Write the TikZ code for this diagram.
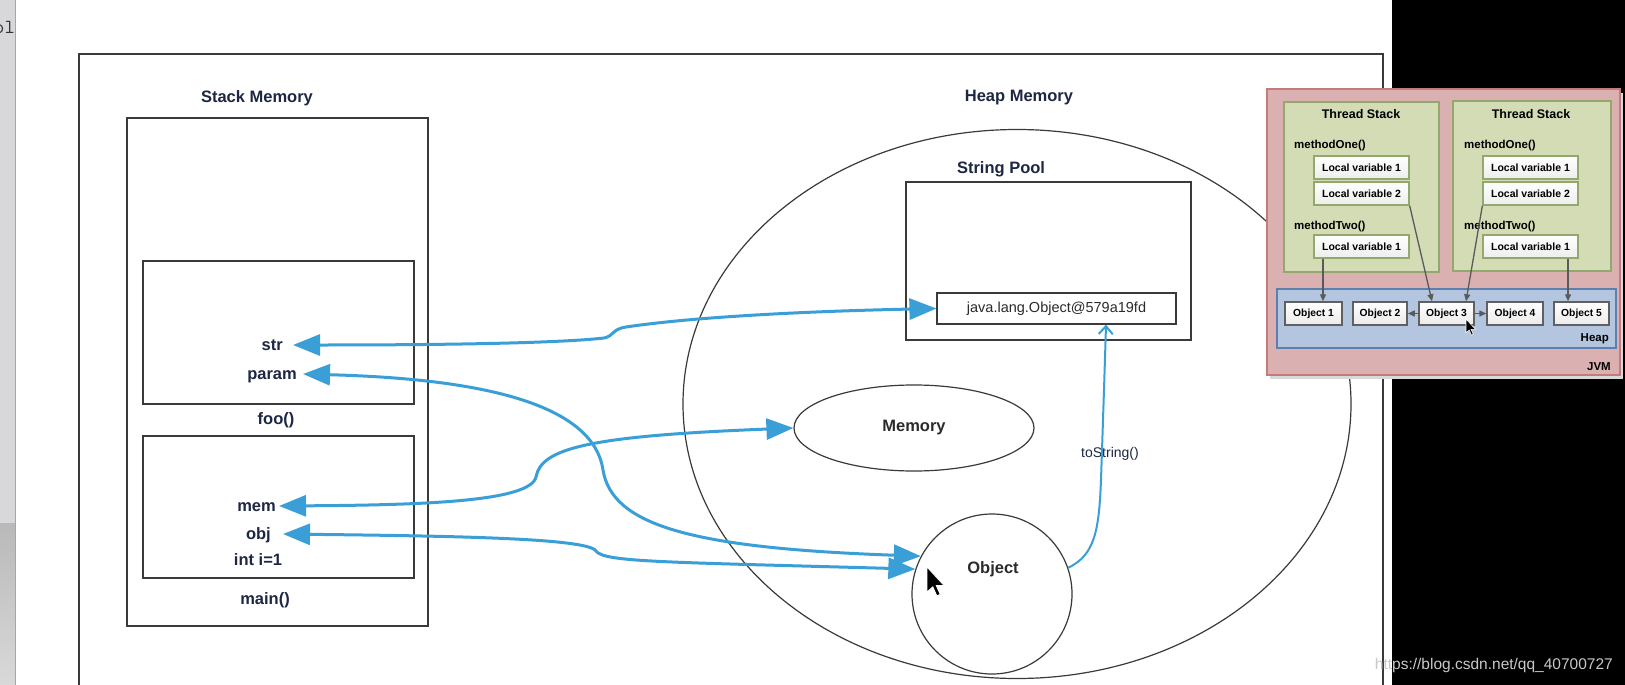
\documentclass[tikz,border=0pt]{standalone}
\usepackage{fontspec}
\setmainfont{Liberation Sans}
\usetikzlibrary{arrows.meta,shapes.geometric}
\definecolor{framec}{HTML}{3A3A3A}
\definecolor{navy}{HTML}{1D2743}
\definecolor{arrowblue}{HTML}{3B9FD7}
\definecolor{jvmpink}{HTML}{DBB0B0}
\definecolor{jvmborder}{HTML}{C47B7B}
\definecolor{tsgreen}{HTML}{D4DCB6}
\definecolor{tsborder}{HTML}{93A86C}
\definecolor{heapblue}{HTML}{B4C5DF}
\definecolor{heapborder}{HTML}{5D7FAE}
\definecolor{darktext}{HTML}{2B2B2B}
\definecolor{jvmline}{HTML}{5A5A5A}
\definecolor{stripgray}{HTML}{D8D8DB}
\definecolor{wmgray}{HTML}{C8C8C8}
\begin{document}
\begin{tikzpicture}[x=1pt,y=-1pt,
  box/.style={draw=framec, line width=1.2pt, inner sep=0pt},
  title/.style={font=\fontsize{16.5}{18}\selectfont\bfseries, text=navy, inner sep=0pt},
  var/.style={font=\fontsize{16.5}{18}\selectfont\bfseries, text=navy, inner ysep=0pt, text height=11.5pt, text depth=0pt},
  link/.style={draw=arrowblue, line width=3pt, {Triangle[length=27pt,width=21pt]}-{Triangle[length=27pt,width=21pt]}},
  tolink/.style={draw=arrowblue, line width=2pt, -{Straight Barb[length=8pt,width=14pt]}},
  tstack/.style={draw=tsborder, fill=tsgreen, line width=1.5pt, inner sep=0pt},
  jvmtitle/.style={font=\fontsize{12.5}{14}\selectfont\bfseries, text=black, inner sep=0pt},
  jvmtxt/.style={font=\fontsize{11.5}{13}\selectfont\bfseries, text=black, inner sep=0pt},
  lvbox/.style={draw=tsborder, line width=1.3pt, top color=white, bottom color=gray!14, minimum width=95pt, minimum height=23pt, inner sep=0pt, font=\fontsize{10.5}{12}\selectfont\bfseries},
  objbox/.style={draw=gray!75!black, line width=1.5pt, top color=white, bottom color=gray!16, minimum height=23pt, inner sep=0pt, font=\fontsize{10.3}{12}\selectfont\bfseries},
  jarrow/.style={draw=jvmline, line width=1.3pt, -{Triangle[length=7pt,width=6pt]}},
  cursor/.style={fill=black, draw=white, line width=0.8pt}
]
\useasboundingbox (0,0) rectangle (1625,685);
% backgrounds
\fill[white] (0,0) rectangle (1625,685);
\fill[black] (1392,0) rectangle (1625,685);
\fill[stripgray] (0,0) rectangle (15,523);
\shade[top color=gray!55, bottom color=gray!30] (0,523) rectangle (15,685);
\draw[gray!70, line width=1pt] (15,0) -- (15,685);
\node[anchor=base east, font=\fontsize{20}{22}\selectfont\ttfamily, inner sep=0pt, text=black!80] (cut) at (15,34) {ol};
% outer frame
\draw[framec, line width=1.4pt] (79,690) -- (79,54) -- (1383,54) -- (1383,690);

% stack memory
\node[box, minimum width=301pt, minimum height=508pt] (stack) at (277.5,372) {};
\node[title, anchor=base] (stacktitle) at (257,102) {Stack Memory};
\node[box, minimum width=271pt, minimum height=143pt] (foo) at (278.5,332.5) {};
\node[title, anchor=base] (foolabel) at (276,424) {foo()};
\node[box, minimum width=271pt, minimum height=142pt] (main) at (278.5,507) {};
\node[title, anchor=base] (mainlabel) at (265,604) {main()};
\node[var, anchor=east, inner xsep=10pt] (str) at (293,345) {str};
\node[var, anchor=east, inner xsep=6pt] (param) at (303,374) {param};
\node[var, anchor=east, inner xsep=3pt] (mem) at (279,506) {mem};
\node[var, anchor=east, inner xsep=12pt] (obj) at (283,534) {obj};
\node[title, anchor=base] (inti) at (258,565) {int i=1};

% heap memory
\node[draw=framec, line width=1.2pt, ellipse, minimum width=668pt, minimum height=549pt, inner sep=0pt] (heapell) at (1017,404) {};
\node[title, anchor=base] (heaptitle) at (1019,101) {Heap Memory};
\node[title, anchor=base] (pooltitle) at (1001,173) {String Pool};
\node[box, minimum width=285pt, minimum height=158pt] (pool) at (1048.5,261) {};
\node[box, minimum width=239pt, minimum height=31pt, font=\fontsize{14.5}{16}\selectfont, text=darktext] (jstr) at (1056.5,308.5) {java.lang.Object@579a19fd};
\node[draw=framec, line width=1.2pt, ellipse, minimum width=240pt, minimum height=86pt, inner sep=0pt, font=\fontsize{16.5}{18}\selectfont\bfseries, text=darktext] (memory) at (914,428) {Memory};
\node[draw=framec, line width=1.2pt, circle, minimum size=160pt, inner sep=0pt] (objc) at (992,594) {};
\node[font=\fontsize{16.5}{18}\selectfont\bfseries, text=darktext, inner sep=0pt] (objtext) at (993,569) {Object};
\node[font=\fontsize{14}{16}\selectfont, text=navy, anchor=base, inner sep=0pt] (tostr) at (1110,457) {toString()};

% blue connectors
\draw[link] (str.east) .. controls (450,345) and (560,343) .. (604,338) .. controls (614,336) and (612,329) .. (626,327) .. controls (700,316) and (820,311) .. (jstr.west);
\draw[link] (param.east) .. controls (450,378) and (592,395) .. (603,470) .. controls (612,525) and (690,548) .. (objc.152);
\draw[link] (mem.east) .. controls (420,505) and (530,502) .. (536,477) .. controls (541,448) and (590,436) .. (memory.west);
\draw[link] (obj.east) .. controls (450,536) and (588,538) .. (596,551) .. controls (604,562) and (660,562) .. (objc.162);
\draw[tolink] (objc.19) .. controls (1095,555) and (1099,530) .. (1101,480) .. controls (1103,420) and (1105,360) .. ([xshift=49.5pt]jstr.south);

% cursor at Object
\draw[cursor] (927,567) -- ++(0,25) -- ++(5.8,-5.2) -- ++(4,9) -- ++(3.4,-1.4) -- ++(-3.9,-8.8) -- ++(7.8,0) -- cycle;

% JVM panel
\fill[gray!30] (1270,93) rectangle (1623,379);
\node[draw=jvmborder, fill=jvmpink, line width=1.5pt, minimum width=353pt, minimum height=286pt, inner sep=0pt] (jvm) at (1443.5,232) {};
\node[jvmtxt, anchor=base east] (jvmlabel) at (1611,370) {JVM};
\node[tstack, minimum width=155pt, minimum height=170pt] (ts1) at (1361.5,187) {};
\node[tstack, minimum width=158pt, minimum height=170pt] (ts2) at (1532,186) {};
\node[jvmtitle, anchor=base] (ts1title) at (1361,118) {Thread Stack};
\node[jvmtitle, anchor=base] (ts2title) at (1531,118) {Thread Stack};
\node[jvmtxt, anchor=base west] (m1a) at (1294,148) {methodOne()};
\node[jvmtxt, anchor=base west] (m2a) at (1294,229) {methodTwo()};
\node[jvmtxt, anchor=base west] (m1b) at (1464,148) {methodOne()};
\node[jvmtxt, anchor=base west] (m2b) at (1464,229) {methodTwo()};
\node[lvbox] (lv1a) at (1361.5,167.5) {Local variable 1};
\node[lvbox] (lv2a) at (1361.5,193.5) {Local variable 2};
\node[lvbox] (lv3a) at (1361.5,246.5) {Local variable 1};
\node[lvbox] (lv1b) at (1530.5,167.5) {Local variable 1};
\node[lvbox] (lv2b) at (1530.5,193.5) {Local variable 2};
\node[lvbox] (lv3b) at (1530.5,246.5) {Local variable 1};
\node[draw=heapborder, fill=heapblue, line width=1.5pt, minimum width=339pt, minimum height=59pt, inner sep=0pt] (heapbox) at (1446.5,318.5) {};
\node[jvmtxt, anchor=base east] (heaplabel) at (1609,341) {Heap};
\node[objbox, minimum width=57pt] (o1) at (1313.5,313.5) {Object 1};
\node[objbox, minimum width=54pt] (o2) at (1380,313.5) {Object 2};
\node[objbox, minimum width=55pt] (o3) at (1446.5,313.5) {Object 3};
\node[objbox, minimum width=56pt] (o4) at (1515,313.5) {Object 4};
\node[objbox, minimum width=55pt] (o5) at (1581.5,313.5) {Object 5};
\draw[jarrow] ([xshift=-38.5pt]lv3a.south) -- ([xshift=9.5pt]o1.north);
\draw[jarrow] (lv2a.south east) -- ([xshift=-14.5pt]o3.north);
\draw[jarrow] (lv2b.south west) -- ([xshift=19.5pt]o3.north);
\draw[jarrow] ([xshift=37.5pt]lv3b.south) -- ([xshift=-13.5pt]o5.north);
\draw[jarrow] (o3.west) -- (o2.east);
\draw[jarrow] (o3.east) -- (o4.west);
% cursor at Object 3
\draw[cursor, line width=0.6pt] (1466,319) -- ++(0,14) -- ++(3.2,-2.9) -- ++(2.2,5) -- ++(1.9,-0.8) -- ++(-2.2,-4.9) -- ++(4.4,0) -- cycle;

% watermark
\node[anchor=base east, font=\fontsize{15.5}{17}\selectfont, text=wmgray, inner sep=0pt] (wm) at (1613,669) {https://blog.csdn.net/qq\_40700727};
\end{tikzpicture}
\end{document}
